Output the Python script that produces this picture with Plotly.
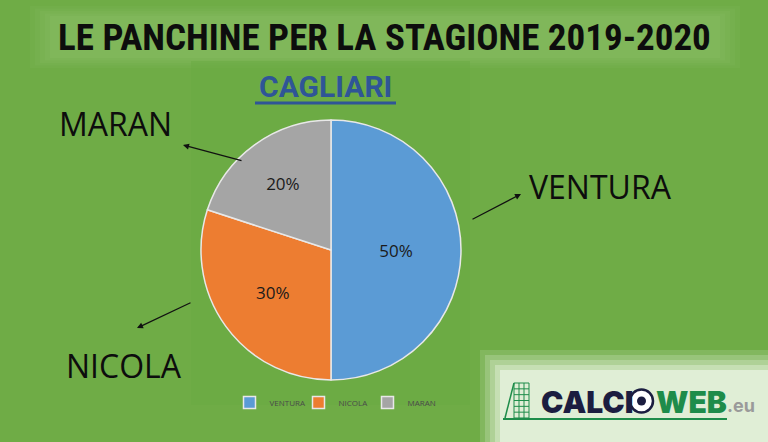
import plotly.graph_objects as go

labels = ["VENTURA", "NICOLA", "MARAN"]
values = [50, 30, 20]
colors = ["#5b9bd5", "#ed7d31", "#a5a5a5"]

title_text = "LE PANCHINE PER LA STAGIONE 2019-2020"
subtitle_text = "CAGLIARI"

W, H = 768, 442
BG = "#6fac46"

fig = go.Figure()
fig.add_trace(go.Pie(
    labels=labels, values=values, sort=False, direction="clockwise", rotation=0,
    marker=dict(colors=colors, line=dict(color="#e8e8e8", width=1.5)),
    texttemplate="%{percent:.0%}", textposition="inside", insidetextorientation="horizontal",
    textfont=dict(family="Open Sans", size=17, color="#1a1a1a"),
    domain=dict(x=[200 / W, 462 / W], y=[62 / H, 322 / H]),
    hoverinfo="label+percent",
))

def px(x): return x / W
def py(y): return 1 - y / H

shapes = []
# title glow
for pad, op in [(20, 0.05), (15, 0.05), (10, 0.06), (5, 0.06), (0, 0.07)]:
    shapes.append(dict(type="rect", xref="paper", yref="paper",
                       x0=px(50 - pad), x1=px(720 + pad), y0=py(16 - pad / 2), y1=py(58 + pad / 2),
                       fillcolor="#b5dd98", opacity=op, line=dict(width=0), layer="below"))
# chart area subtle box
shapes.append(dict(type="rect", xref="paper", yref="paper",
                   x0=px(191), x1=px(470), y0=py(61), y1=py(405),
                   fillcolor="#6aa941", opacity=0.5, line=dict(width=0), layer="below"))
# logo glow
for pad, op in [(20, 0.15), (15, 0.2), (10, 0.25), (5, 0.35), (0, 0.6)]:
    shapes.append(dict(type="rect", xref="paper", yref="paper",
                       x0=px(500 - pad), x1=px(768), y0=py(370 - pad), y1=py(442),
                       fillcolor="#f2f8ec", opacity=op, line=dict(width=0), layer="below"))
# underline for subtitle
shapes.append(dict(type="line", xref="paper", yref="paper",
                   x0=px(255), x1=px(396), y0=py(103), y1=py(103),
                   line=dict(color="#2f5597", width=3)))
# logo goal net
gx0, gx1, gy0, gy1 = 514, 529, 383, 418
shapes.append(dict(type="line", xref="paper", yref="paper", x0=px(503), x1=px(727),
                   y0=py(419), y1=py(419), line=dict(color="#1e8c4a", width=2)))
shapes.append(dict(type="line", xref="paper", yref="paper", x0=px(gx0), x1=px(505),
                   y0=py(gy0), y1=py(gy1), line=dict(color="#1e8c4a", width=1.5)))
for k in range(4):
    xx = gx0 + k * (gx1 - gx0) / 3
    shapes.append(dict(type="line", xref="paper", yref="paper", x0=px(xx), x1=px(xx),
                       y0=py(gy0), y1=py(gy1), line=dict(color="#1e8c4a", width=1)))
for k in range(7):
    yy = gy0 + k * (gy1 - gy0) / 6
    shapes.append(dict(type="line", xref="paper", yref="paper", x0=px(gx0), x1=px(gx1),
                       y0=py(yy), y1=py(yy), line=dict(color="#1e8c4a", width=1)))
# logo ball
shapes.append(dict(type="circle", xref="paper", yref="paper", x0=px(630), x1=px(653),
                   y0=py(389.5), y1=py(412.5), fillcolor="#ffffff", line=dict(color="#1b1d40", width=2.5)))
shapes.append(dict(type="circle", xref="paper", yref="paper", x0=px(637), x1=px(646),
                   y0=py(396.5), y1=py(405.5), fillcolor="#1b1d40", line=dict(width=0)))

def arrow(head, tail):
    return dict(x=px(head[0]), y=py(head[1]), ax=tail[0] - head[0], ay=tail[1] - head[1],
                xref="paper", yref="paper", axref="pixel", ayref="pixel",
                showarrow=True, arrowhead=2, arrowsize=1, arrowwidth=1.2, arrowcolor="#111", text="")

def label(txt, x, y, size=32, family="Open Sans", color="#0d0d0d", xanchor="center", weight=None):
    f = dict(family=family, size=size, color=color)
    if weight:
        f["weight"] = weight
    return dict(text=txt, x=px(x), y=py(y), xref="paper", yref="paper", showarrow=False,
                xanchor=xanchor, yanchor="middle", font=f)

annotations = [
    label("<b>" + title_text + "</b>", 384, 37, size=37, family="Roboto Condensed"),
    label("<b>" + subtitle_text + "</b>", 325, 87, size=30, family="Roboto", color="#2f5597"),
    label("MARAN", 115, 123, size=32),
    label("VENTURA", 600, 186, size=32),
    label("NICOLA", 124, 365, size=32),
    arrow((183, 145), (243, 161)),
    arrow((521, 194), (471, 220)),
    arrow((137, 328), (192, 302)),
    label("CALCI", 539, 402, size=30, family="Inter", color="#1b1d40", xanchor="left", weight=900),
    label("WEB", 654, 402, size=30, family="Inter", color="#1e8c4a", xanchor="left", weight=900),
    label(".eu", 725, 405, size=18, family="Inter", color="#9a9a9a", xanchor="left", weight=700),
]

fig.update_layout(
    width=W, height=H, margin=dict(l=0, r=0, t=0, b=0),
    paper_bgcolor=BG, plot_bgcolor=BG,
    shapes=shapes, annotations=annotations,
    showlegend=True,
    legend=dict(orientation="h", x=px(333), xanchor="center", y=py(388), yanchor="top",
                font=dict(family="Open Sans", size=8, color="#4a4a4a"),
                bgcolor="rgba(0,0,0,0)", itemwidth=30, entrywidth=24, tracegroupgap=0),
)

fig.write_html("out.html", config={"displayModeBar": False},
               post_script="document.body.style.margin='0';")
